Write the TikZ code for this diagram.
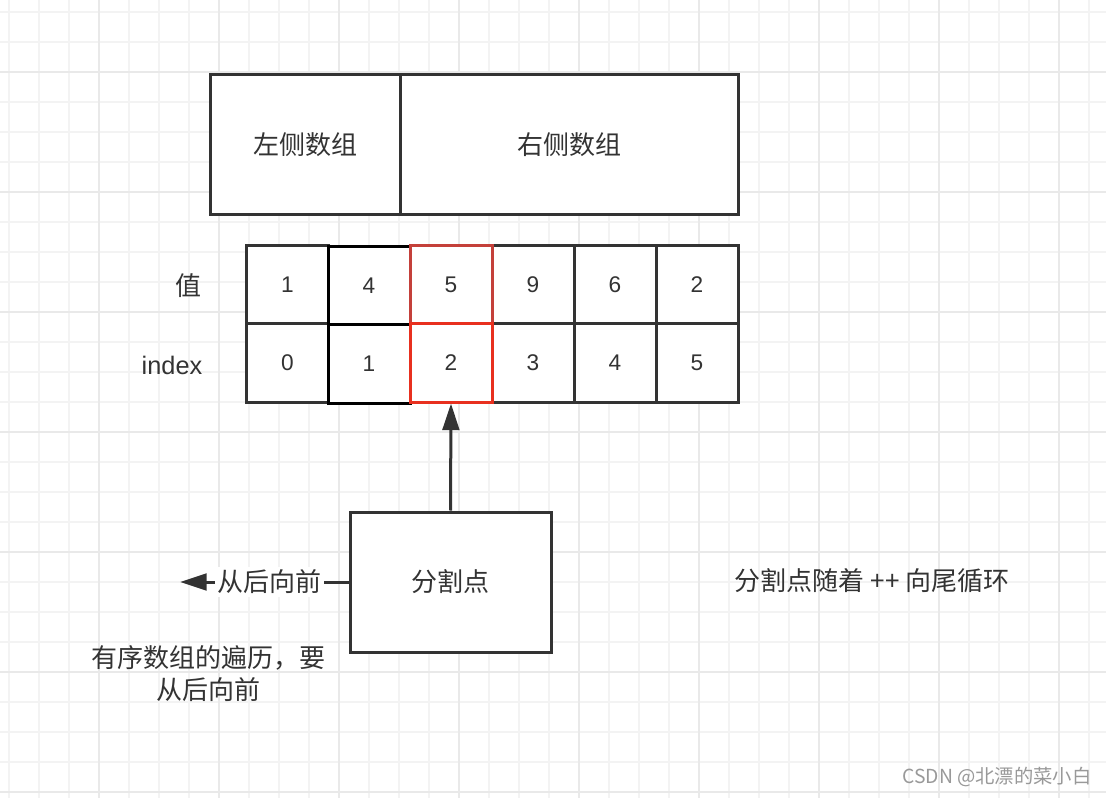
\documentclass[tikz,border=0pt]{standalone}
\usepackage{fontspec}
\setmainfont{Noto Sans CJK SC}
\newfontfamily\latinfont{Liberation Sans}
\usetikzlibrary{arrows.meta}
\definecolor{ink}{HTML}{333333}
\definecolor{gridminor}{HTML}{F3F3F3}
\definecolor{gridmajor}{HTML}{E9E9E9}
\definecolor{redtop}{HTML}{C4403A}
\definecolor{redbot}{HTML}{E8301F}
\definecolor{wmark}{HTML}{999999}
\tikzset{
  txt/.style={text=ink, font=\fontsize{19.5}{24}\selectfont},
  boxed/.style={draw=ink, line width=2.25pt, fill=white, inner sep=0pt, txt},
  cell/.style={draw=ink, line width=2.25pt, fill=white, minimum width=61.5pt, minimum height=58.5pt, inner sep=0pt, text=ink, font=\latinfont\fontsize{17}{20}\selectfont},
  arr/.style={draw=ink, line width=2.25pt, -{Triangle[length=20pt,width=12.5pt]}}
}
\begin{document}
\begin{tikzpicture}[x=0.75pt,y=-0.75pt]
\useasboundingbox (0,0) rectangle (1106,798);
\fill[white] (0,0) rectangle (1106,798);
% grid
\foreach \k in {0,...,36} \draw[gridminor, line width=0.8pt] ({9+30*\k},0) -- ({9+30*\k},798);
\foreach \k in {0,...,26} \draw[gridminor, line width=0.8pt] (0,{12+30*\k}) -- (1106,{12+30*\k});
\foreach \k in {0,...,8} \draw[gridmajor, line width=0.8pt] ({99+120*\k},0) -- ({99+120*\k},798);
\foreach \k in {0,...,6} \draw[gridmajor, line width=0.8pt] (0,{72+120*\k}) -- (1106,{72+120*\k});

% top boxes
\node[boxed, minimum width=142.5pt, minimum height=105pt] (left) at (305,145) {左侧数组};
\node[boxed, minimum width=253.5pt, minimum height=105pt] (right) at (569,145) {右侧数组};

% cells
\node[cell] (v1) at (287.5,285) {1};
\node[cell] (i1) at (287.5,363) {0};
\node[cell] (v4) at (533,285) {9};
\node[cell] (i4) at (533,363) {3};
\node[cell] (v5) at (615,285) {6};
\node[cell] (i5) at (615,363) {4};
\node[cell] (v6) at (697,285) {2};
\node[cell] (i6) at (697,363) {5};
\node[cell, draw=black] (v2) at (369,286) {4};
\node[cell, draw=black] (i2) at (369,364) {1};
\node[cell, draw=redtop] (v3) at (451,285) {5};
\node[cell, draw=redbot] (i3) at (451,363) {2};

% row labels
\node[txt] (lval) at (188,286) {值};
\node[txt, font=\latinfont\fontsize{19}{24}\selectfont] (lidx) at (172,365) {index};

% split point
\node[boxed, minimum width=150.75pt, minimum height=105pt] (split) at (450.5,582) {分割点};
\draw[arr] (split.north) -- (i3.south);

\coordinate (lefttip) at (180,582);
\draw[arr] (split.west) -- node[pos=0.47, fill=white, inner sep=2pt, txt] (lbl) {从后向前} (lefttip);

\node[txt, align=center] (note) at (208,674) {有序数组的遍历，要\\从后向前};
\node[txt] (loop) at (872,581) {分割点随着 ++ 向尾循环};
\node[text=wmark, font=\fontsize{14.5}{16}\selectfont] (wm) at (997,777) {CSDN @北漂的菜小白};
\end{tikzpicture}
\end{document}
